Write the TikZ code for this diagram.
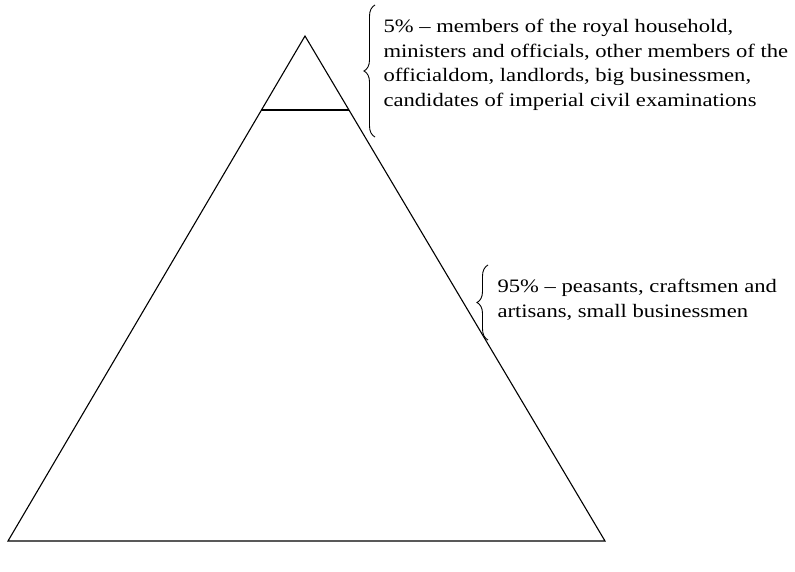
\documentclass[tikz,border=0pt]{standalone}
\usepackage{fontspec}
\setmainfont[FakeStretch=1.19]{Liberation Serif}
\usetikzlibrary{calc,decorations.pathreplacing}
\begin{document}
\begin{tikzpicture}[x=1bp,y=-1bp,line width=1.1bp,
    txt/.style={anchor=base west,inner sep=0pt,align=left,
      font=\fontsize{19bp}{24.6bp}\selectfont},
    curly/.style={decorate,decoration={brace,amplitude=11bp},line width=0.9bp}]
    \useasboundingbox (0,0) rectangle (795,572);
    % Corners of the pyramid
    \coordinate (apex) at (305,36);
    \coordinate (bl) at (8,541);
    \coordinate (br) at (605,541);
    
    % Top layer split
    \coordinate (cl) at ($(apex)!0.1465!(bl)$);
    \coordinate (cr) at ($(apex)!0.1465!(br)$);
    
    % Pyramid
    \draw[line join=miter] (apex) -- (bl) -- (br) -- cycle;
    \draw (cl) -- (cr);
    
    % Brace ends
    \coordinate (t1) at (375,137);
    \coordinate (t2) at (375,5);
    \coordinate (b1) at (488,340);
    \coordinate (b2) at (488,265);
    
    % Braces
    \draw[curly] (t1) -- (t2);
    \draw[curly] (b1) -- (b2);
    
    % Labels
    \node[txt] (top) at (383,106.5) {5\% -- members of the royal household,\\
      ministers and officials, other members of the\\
      officialdom, landlords, big businessmen,\\
      candidates of imperial civil examinations};
    \node[txt] (bottom) at (497,317) {95\% -- peasants, craftsmen and\\
      artisans, small businessmen};
  \end{tikzpicture}
\end{document}
